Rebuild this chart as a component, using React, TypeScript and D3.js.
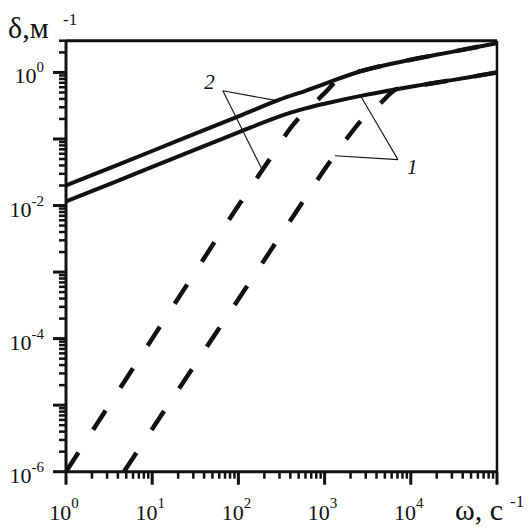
import * as d3 from "d3";

// solid curves (both labelled on the chart)
const omegaSolid = [1, 10, 100, 300, 600, 1000, 3000, 1e4, 3e4, 1e5];
const delta2Solid = [0.02, 0.066, 0.219, 0.389, 0.53, 0.676, 1.096, 1.55, 2.04, 2.75];
const delta1Solid = [0.0115, 0.038, 0.126, 0.219, 0.288, 0.339, 0.46, 0.61, 0.767, 1.0];

// dashed curves
const omega2Dash = [1, 10, 100, 250, 400, 560, 800, 1000, 1500, 3000, 1e4, 3e4, 1e5];
const delta2Dash = [1e-6, 1e-4, 1e-2, 0.058, 0.145, 0.24, 0.37, 0.49, 0.81, 1.096, 1.55, 2.04, 2.75];
const omega1Dash = [4.7, 10, 100, 1000, 1600, 2950, 4500, 6600, 1e4, 3e4, 1e5];
const delta1Dash = [1e-6, 4.4e-6, 3.9e-4, 0.035, 0.082, 0.22, 0.35, 0.55, 0.61, 0.767, 1.0];

const xLabelExp = [0, 1, 2, 3, 4];
const yLabelExp = [0, -2, -4, -6];

// callouts: label, apex and the two points it points to (data units)
const callouts = [
  { text: "2", apex: [66, 0.53], ends: [[270, 0.38], [186, 0.036]], dx: -8, dy: -2, anchor: "end" },
  { text: "1", apex: [7100, 0.049], ends: [[2650, 0.43], [1320, 0.056]], dx: 9, dy: 14, anchor: "start" },
];

const font = "'Liberation Serif', 'Times New Roman', serif";

export default function App() {
  const width = 530;
  const height = 532;

  const x = d3.scaleLog().domain([1, 1e5]).range([66, 497]);
  const y = d3.scaleLog().domain([1e-6, 3]).range([471.7, 40.7]);
  const [x0, x1] = x.range();
  const [y0, y1] = y.range();

  const line = d3
    .line<number[]>()
    .x((d) => x(d[0]))
    .y((d) => y(d[1]))
    .curve(d3.curveCatmullRom.alpha(0.5));
  const zip = (a: number[], b: number[]) => a.map((v, i) => [v, b[i]]);

  const isMajor = (t: number) => Math.abs(Math.log10(t) - Math.round(Math.log10(t))) < 1e-9;
  const xTicks = x.ticks();
  const yTicks = y.ticks();

  return (
    <svg width={width} height={height} style={{ position: "absolute", left: 0, top: 0, background: "#fff" }} fontFamily={font}>
      <defs>
        <clipPath id="plot">
          <rect x={x0} y={y1} width={x1 - x0} height={y0 - y1} />
        </clipPath>
      </defs>

      <g clipPath="url(#plot)" fill="none" stroke="#111">
        <path d={line(zip(omegaSolid, delta2Solid)) as string} strokeWidth={4} />
        <path d={line(zip(omegaSolid, delta1Solid)) as string} strokeWidth={4} />
        <path d={line(zip(omega2Dash, delta2Dash)) as string} strokeWidth={4.5} strokeDasharray="23 27" />
        <path d={line(zip(omega1Dash, delta1Dash)) as string} strokeWidth={4.5} strokeDasharray="23 27" />
      </g>

      {/* frame */}
      <line x1={x0} x2={x1} y1={y1} y2={y1} stroke="#111" strokeWidth={3} />
      <line x1={x1} x2={x1} y1={y1} y2={y0} stroke="#111" strokeWidth={2.5} />
      <line x1={x0} x2={x1} y1={y0} y2={y0} stroke="#111" strokeWidth={3} />
      <line x1={x0} x2={x0} y1={y1} y2={y0} stroke="#111" strokeWidth={3} />

      {xTicks.map((t, i) => (
        <line key={"xt" + i} x1={x(t)} x2={x(t)} y1={y0} y2={y0 + (isMajor(t) ? 13 : 7)} stroke="#111" strokeWidth={isMajor(t) ? 3 : 2.5} />
      ))}
      {yTicks.map((t, i) => (
        <line key={"yt" + i} x1={x0} x2={x0 - (isMajor(t) ? 13 : 7)} y1={y(t)} y2={y(t)} stroke="#111" strokeWidth={isMajor(t) ? 3 : 2.5} />
      ))}

      {xLabelExp.map((e) => (
        <text key={"xl" + e} x={x(Math.pow(10, e)) - 2} y={520} textAnchor="middle" fontSize={22} fill="#111">
          10<tspan fontSize={15} dy={-12}>{e}</tspan>
        </text>
      ))}
      {yLabelExp.map((e) => (
        <text key={"yl" + e} x={x0 - 22} y={y(Math.pow(10, e)) + 11} textAnchor="end" fontSize={22} fill="#111">
          10<tspan fontSize={15} dy={-11}>{e}</tspan>
        </text>
      ))}

      {/* axis titles */}
      <text x={8} y={38} fontSize={30} fill="#111">δ,м</text>
      <text x={63} y={25} fontSize={17} fill="#111">-1</text>
      <text x={455} y={520} fontSize={30} fill="#111">ω, с</text>
      <text x={510} y={507} fontSize={17} fill="#111">-1</text>

      {callouts.map((c) => {
        const ax = x(c.apex[0]);
        const ay = y(c.apex[1]);
        return (
          <g key={c.text}>
            {c.ends.map((p, i) => (
              <line key={i} x1={ax} y1={ay} x2={x(p[0])} y2={y(p[1])} stroke="#111" strokeWidth={1.1} />
            ))}
            <text x={ax + c.dx} y={ay + c.dy} textAnchor={c.anchor} fontSize={21} fontStyle="italic" fill="#111">
              {c.text}
            </text>
          </g>
        );
      })}
    </svg>
  );
}
